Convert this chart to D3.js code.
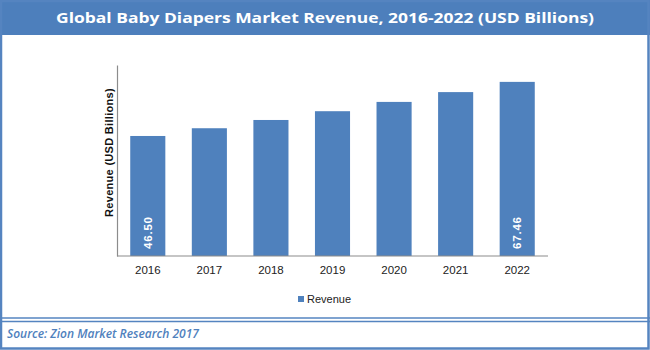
<!DOCTYPE html>
<html>
<head>
<meta charset="utf-8">
<script src="https://cdn.jsdelivr.net/npm/d3@7"></script>
<style>
  html, body { margin: 0; padding: 0; background: #fff; }
  svg { display: block; }
</style>
</head>
<body>
<script>
// Chart data
const years = ["2016", "2017", "2018", "2019", "2020", "2021", "2022"];
const revenue = [46.50, 49.5, 52.7, 56.1, 59.7, 63.5, 67.46];
const labelledYears = ["2016", "2022"];
const seriesName = "Revenue";
const titleText = "Global Baby Diapers Market Revenue, 2016-2022 (USD Billions)";
const yAxisTitle = "Revenue (USD Billions)";
const sourceText = "Source: Zion Market Research 2017";

const W = 650, H = 350;
const blue = "#4F81BD";
const frameBlue = "#5584C0";

const svg = d3.select("body").append("svg")
  .attr("width", W).attr("height", H);

// Frame and header band
svg.append("rect").attr("x", 0).attr("y", 0).attr("width", W).attr("height", 35)
  .attr("fill", "#4D7FBC");
svg.append("rect").attr("x", 1).attr("y", 1).attr("width", W - 2.5).attr("height", H - 2.5)
  .attr("fill", "none").attr("stroke", frameBlue).attr("stroke-width", 2.5);
svg.append("line").attr("x1", 0).attr("x2", W).attr("y1", 318).attr("y2", 318)
  .attr("stroke", frameBlue).attr("stroke-width", 1.5);
svg.append("line").attr("x1", 0).attr("x2", W).attr("y1", 321.5).attr("y2", 321.5)
  .attr("stroke", frameBlue).attr("stroke-width", 1.5);

// Title
svg.append("text")
  .attr("x", W / 2).attr("y", 22.5)
  .attr("text-anchor", "middle")
  .attr("fill", "#fff")
  .attr("font-family", "Open Sans, sans-serif")
  .attr("font-weight", "bold")
  .attr("font-size", 15)
  .attr("textLength", 538)
  .attr("lengthAdjust", "spacingAndGlyphs")
  .text(titleText);

// Scales
const x = d3.scaleBand().domain(years).range([117, 548]).paddingInner(0.43).paddingOuter(0.215);
const y = d3.scaleLinear().domain([0, 74]).range([256, 65]);

// Bars
svg.append("g").selectAll("rect")
  .data(years.map((yr, i) => ({ yr, v: revenue[i] })))
  .join("rect")
  .attr("x", d => x(d.yr))
  .attr("y", d => y(d.v))
  .attr("width", x.bandwidth())
  .attr("height", d => y(0) - y(d.v))
  .attr("fill", blue);

// Axes
const gx = svg.append("g").attr("transform", `translate(0,${y(0)})`)
  .call(d3.axisBottom(x).tickSize(0).tickPadding(10));
gx.select(".domain").attr("stroke", "#8c8c8c").attr("stroke-width", 1.2)
  .attr("d", `M${x.range()[0]},0H${x.range()[1]}`);
gx.selectAll("text")
  .attr("font-family", "Liberation Sans, Arial, sans-serif")
  .attr("font-size", 11.5)
  .attr("fill", "#222");

const gy = svg.append("g").attr("transform", `translate(${x.range()[0]},0)`)
  .call(d3.axisLeft(y).tickValues([]).tickSize(0));
gy.select(".domain").attr("stroke", "#8c8c8c").attr("stroke-width", 1.2);

// Y axis title
svg.append("text")
  .attr("transform", `translate(113,${(65 + 256) / 2 - 8}) rotate(-90)`)
  .attr("text-anchor", "middle")
  .attr("font-family", "Liberation Sans, Arial, sans-serif")
  .attr("font-weight", "bold")
  .attr("font-size", 11)
  .attr("letter-spacing", 0.3)
  .attr("fill", "#111")
  .text(yAxisTitle);

// Value labels on first and last bars
svg.append("g").selectAll("text")
  .data(years.map((yr, i) => ({ yr, v: revenue[i] })).filter(d => labelledYears.includes(d.yr)))
  .join("text")
  .attr("transform", d => `translate(${x(d.yr) + x.bandwidth() / 2 + 4},${y(0) - 7}) rotate(-90)`)
  .attr("text-anchor", "start")
  .attr("font-family", "Liberation Sans, Arial, sans-serif")
  .attr("font-weight", "bold")
  .attr("font-size", 11.5)
  .attr("letter-spacing", 0.8)
  .attr("fill", "#fff")
  .text(d => d.v.toFixed(2));

// Legend
const lg = svg.append("g").attr("transform", "translate(298,296)");
lg.append("rect").attr("x", 0).attr("y", 0).attr("width", 6).attr("height", 6).attr("fill", blue);
lg.append("text").attr("x", 9).attr("y", 7)
  .attr("font-family", "Liberation Sans, Arial, sans-serif")
  .attr("font-size", 11)
  .attr("fill", "#222")
  .text(seriesName);

// Source note
svg.append("text")
  .attr("x", 7).attr("y", 338)
  .attr("font-family", "Open Sans, sans-serif")
  .attr("font-style", "italic")
  .attr("font-weight", 600)
  .attr("font-size", 12)
  .attr("fill", "#4F81BD")
  .text(sourceText);
</script>
</body>
</html>
